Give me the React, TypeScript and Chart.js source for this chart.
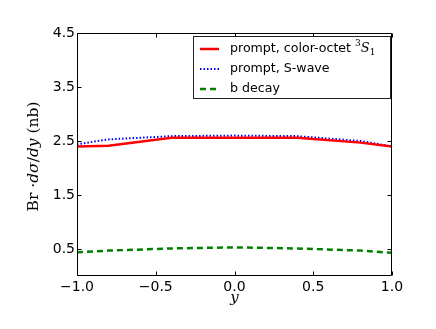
import React, { useEffect, useRef } from "react";
import { Chart, registerables } from "chart.js";
Chart.register(...registerables);

const xValues = [-1, -0.8, -0.4, 0, 0.4, 0.8, 1];
const octetValues = [2.4, 2.41, 2.56, 2.56, 2.56, 2.47, 2.4];
const sWaveValues = [2.44, 2.53, 2.59, 2.6, 2.59, 2.5, 2.4];
const bDecayValues = [0.44, 0.47, 0.51, 0.53, 0.51, 0.47, 0.43];
const xTicks = [-1, -0.5, 0, 0.5, 1];
const yTicks = [0.5, 1.5, 2.5, 3.5, 4.5];
const seriesLabels = ["prompt, color-octet ", "prompt, S-wave", "b decay"];

const fmt = (v: number) => v.toFixed(1).replace("-", "\u2212");

const framePlugin = {
  id: "frame",
  afterDatasetsDraw(chart: any) {
    const ctx = chart.ctx;
    const { left, right, top, bottom } = chart.chartArea;
    const xs = chart.scales.x;
    const ys = chart.scales.y;
    ctx.save();
    ctx.strokeStyle = "#000";
    ctx.lineWidth = 1;
    ctx.beginPath();
    const L = Math.round(left) + 0.5, R = Math.round(right) - 0.5;
    const T = Math.round(top) + 0.5, B = Math.round(bottom) - 0.5;
    ctx.rect(L, T, R - L, B - T);
    const tl = 4;
    xTicks.forEach((v) => {
      const px = Math.round(xs.getPixelForValue(v)) + 0.5;
      ctx.moveTo(px, B); ctx.lineTo(px, B - tl);
      ctx.moveTo(px, T); ctx.lineTo(px, T + tl);
    });
    yTicks.forEach((v) => {
      const py = Math.round(ys.getPixelForValue(v)) + 0.5;
      ctx.moveTo(L, py); ctx.lineTo(L + tl, py);
      ctx.moveTo(R, py); ctx.lineTo(R - tl, py);
    });
    ctx.stroke();
    ctx.restore();
  },
  afterDraw(chart: any) {
    const ctx = chart.ctx;
    const { top, bottom, left, right } = chart.chartArea;
    ctx.save();
    // x axis label
    ctx.fillStyle = "#000";
    ctx.font = "italic 15px 'DejaVu Serif'";
    ctx.textAlign = "center";
    ctx.textBaseline = "alphabetic";
    ctx.fillText("y", (left + right) / 2, 302);
    // y axis title
    const fs = 15.5;
    const segs: [string, string][] = [
      ["Br", `${fs}px 'DejaVu Serif'`],
      [" \u00b7", `${fs}px 'DejaVu Serif'`],
      ["d\u03c3", `italic ${fs}px 'DejaVu Serif'`],
      ["/", `${fs}px 'DejaVu Serif'`],
      ["dy", `italic ${fs}px 'DejaVu Serif'`],
      [" (nb)", `${fs}px 'DejaVu Serif'`],
    ];
    let total = 0;
    segs.forEach(([t, f]) => { ctx.font = f; total += ctx.measureText(t).width; });
    ctx.translate(38, (top + bottom) / 2 + 2);
    ctx.rotate(-Math.PI / 2);
    ctx.textAlign = "left";
    let x = -total / 2;
    segs.forEach(([t, f]) => { ctx.font = f; ctx.fillText(t, x, 0); x += ctx.measureText(t).width; });
    ctx.restore();

    // legend
    ctx.save();
    const bx = 193.5, by = 36.5, bw = 197, bh = 62;
    ctx.fillStyle = "#fff";
    ctx.fillRect(bx, by, bw, bh);
    ctx.strokeStyle = "#222";
    ctx.lineWidth = 1;
    ctx.strokeRect(bx, by, bw, bh);
    const rows = [49, 69, 89];
    const styles = [
      { color: "#ff0000", dash: [] as number[], w: 2.5 },
      { color: "#0000ff", dash: [1.5, 2], w: 2 },
      { color: "#008000", dash: [6, 4], w: 2.5 },
    ];
    rows.forEach((ry, i) => {
      const s = styles[i];
      ctx.beginPath();
      ctx.setLineDash(s.dash);
      ctx.strokeStyle = s.color;
      ctx.lineWidth = s.w;
      ctx.moveTo(200, ry);
      ctx.lineTo(219, ry);
      ctx.stroke();
      ctx.setLineDash([]);
      ctx.fillStyle = "#000";
      ctx.font = "12.6px 'DejaVu Sans'";
      ctx.textBaseline = "middle";
      ctx.textAlign = "left";
      ctx.fillText(seriesLabels[i], 230, ry);
      if (i === 0) {
        let tx = 230 + ctx.measureText(seriesLabels[i]).width;
        ctx.font = "9px 'DejaVu Serif'";
        ctx.fillText("3", tx, ry - 5);
        tx += ctx.measureText("3").width;
        ctx.font = "italic 13px 'DejaVu Serif'";
        ctx.fillText("S", tx, ry);
        tx += ctx.measureText("S").width;
        ctx.font = "9px 'DejaVu Serif'";
        ctx.fillText("1", tx, ry + 4);
      }
    });
    ctx.restore();
  },
};

export default function App() {
  const ref = useRef<HTMLCanvasElement>(null);
  useEffect(() => {
    document.body.style.margin = "0";
    const toPts = (ys: number[]) => xValues.map((x, i) => ({ x, y: ys[i] }));
    const chart = new Chart(ref.current!, {
      type: "line",
      data: {
        datasets: [
          { label: seriesLabels[0], data: toPts(octetValues), borderColor: "#ff0000", borderWidth: 2.5, pointRadius: 0, fill: false },
          { label: seriesLabels[1], data: toPts(sWaveValues), borderColor: "#0000ff", borderWidth: 2, borderDash: [1.5, 2], pointRadius: 0, fill: false },
          { label: seriesLabels[2], data: toPts(bDecayValues), borderColor: "#008000", borderWidth: 2.5, borderDash: [6, 4], pointRadius: 0, fill: false },
        ],
      },
      options: {
        responsive: false,
        animation: false,
        layout: { padding: { top: 33, right: 44, left: 0, bottom: 0 } },
        plugins: { legend: { display: false }, tooltip: { enabled: false } },
        scales: {
          x: {
            type: "linear",
            min: -1,
            max: 1,
            afterBuildTicks: (s: any) => { s.ticks = xTicks.map((v) => ({ value: v })); },
            afterFit: (s: any) => { s.height = 53; },
            grid: { display: false, drawTicks: false },
            border: { display: false },
            ticks: { color: "#000", font: { family: "DejaVu Sans", size: 14 }, padding: 3, maxRotation: 0, callback: (v: any) => fmt(Number(v)) },
          },
          y: {
            type: "linear",
            min: 0,
            max: 4.5,
            afterBuildTicks: (s: any) => { s.ticks = yTicks.map((v) => ({ value: v })); },
            afterFit: (s: any) => { s.width = 77; },
            grid: { display: false, drawTicks: false },
            border: { display: false },
            ticks: { color: "#000", font: { family: "DejaVu Sans", size: 14 }, padding: 2, callback: (v: any) => Number(v).toFixed(1) },
          },
        },
      },
      plugins: [framePlugin],
    });
    return () => chart.destroy();
  }, []);
  return <canvas ref={ref} width={436} height={329} style={{ display: "block" }} />;
}
